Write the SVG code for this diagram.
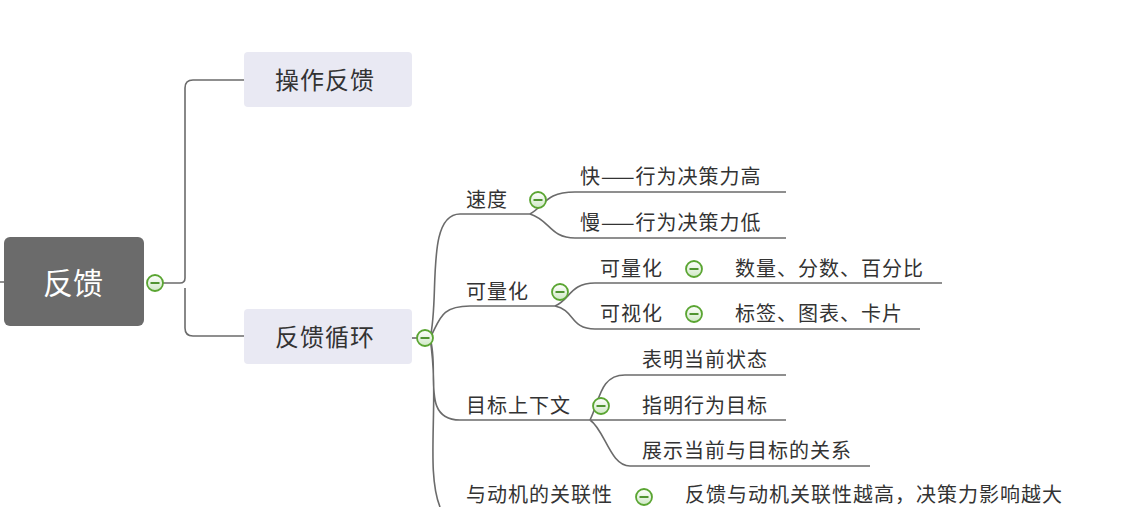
<svg xmlns="http://www.w3.org/2000/svg" width="1126" height="507" viewBox="0 0 1126 507">
<style>
text{font-family:"Noto Sans CJK SC","Liberation Sans",sans-serif;fill:#333;font-size:20px;letter-spacing:1px}
.c{fill:none;stroke:#6b6b6b;stroke-width:1.6}
.b{fill:#e9e9f3}
.t{font-size:24px;text-anchor:middle}
</style>
<defs>
<linearGradient id="g" x1="0" y1="0" x2="0" y2="1"><stop offset="0" stop-color="#fff"/><stop offset="1" stop-color="#cfe8c5"/></linearGradient>
<g id="m"><circle r="8" fill="url(#g)" stroke="#5aa532" stroke-width="1.8"/><line x1="-4.5" y1="0" x2="4.5" y2="0" stroke="#3f8a1e" stroke-width="1.8"/></g>
</defs>
<rect width="1126" height="507" fill="#fff"/>
<g id="connectors">
<path class="c" d="M0 282H4M162 283H180Q185 283 185 278V88Q185 80 193 80H244M185 288V328Q185 336 193 336H244"/>
<path class="c" d="M412 338H420"/>
<path class="c" d="M430 338C440 300 425 214 460 214H530M430 338C440 320 440 306 470 306H555M430 338C440 370 420 420 460 420H590M430 338C440 400 425 470 440 507"/>
<path class="c" d="M530 214C545 206 545 192 575 192H786M530 214C550 220 550 238 575 238H786"/>
<path class="c" d="M555 306C570 300 570 283 595 283H942M555 306C575 310 570 329 595 329H920"/>
<path class="c" d="M590 420C600 400 600 375 625 375H786M590 420H786M590 420C605 430 610 466 630 466H870"/>
</g>
<g id="root"><rect x="4" y="237" width="140" height="89" rx="6" fill="#6b6b6b"/><text x="73" y="294" class="t" style="fill:#fff;font-size:30px;letter-spacing:0">反馈</text><use href="#m" x="155" y="283"/></g>
<g id="n1"><rect class="b" x="244" y="52" width="168" height="55" rx="4"/><text class="t" x="325" y="89">操作反馈</text></g>
<g id="n2"><rect class="b" x="244" y="309" width="168" height="55" rx="4"/><text class="t" x="325" y="346">反馈循环</text><use href="#m" x="425" y="338"/></g>
<g id="sd"><text x="466" y="207">速度</text><use href="#m" x="538" y="200"/></g>
<g id="k"><text x="580" y="184">快——行为决策力高</text></g>
<g id="mm"><text x="580" y="230">慢——行为决策力低</text></g>
<g id="klh"><text x="466" y="299">可量化</text><use href="#m" x="560" y="292"/></g>
<g id="klh2"><text x="600" y="276">可量化</text><use href="#m" x="694" y="269"/></g>
<g id="sl"><text x="735" y="276">数量、分数、百分比</text></g>
<g id="ksh"><text x="600" y="321">可视化</text><use href="#m" x="694" y="314"/></g>
<g id="bq"><text x="735" y="321">标签、图表、卡片</text></g>
<g id="mb"><text x="466" y="413">目标上下文</text><use href="#m" x="601" y="406"/></g>
<g id="m1"><text x="642" y="367">表明当前状态</text></g>
<g id="m2"><text x="642" y="413">指明行为目标</text></g>
<g id="m3"><text x="642" y="458">展示当前与目标的关系</text></g>
<g id="dj"><text x="466" y="502">与动机的关联性</text><use href="#m" x="644" y="497"/></g>
<g id="dj2"><text x="685" y="502">反馈与动机关联性越高，决策力影响越大</text></g>
</svg>
